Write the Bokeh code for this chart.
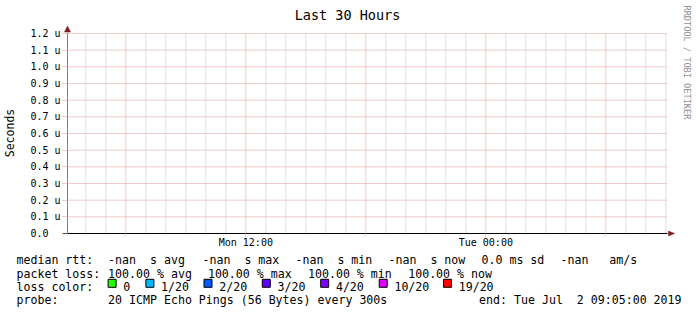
import math
import re
from bokeh.plotting import figure
from bokeh.models import Range1d, FixedTicker, CustomJSTickFormatter
from bokeh.core.properties import value
from bokeh.embed import file_html
from bokeh.resources import INLINE

# ---------------- data ----------------
title_text = "Last 30 Hours"
y_axis_label = "Seconds"
watermark_text = "RRDTOOL / TOBI OETIKER"

# x axis in hours since Mon 00:00 ; window Mon 03:05 .. Tue 09:05
x_start_hour = 3 + 5 / 60
x_end_hour = 33 + 5 / 60
x_major_hours = [6, 12, 18, 24, 30]
x_major_labels = ["", "Mon 12:00", "", "Tue 00:00", ""]
x_minor_hours = [4, 5, 7, 8, 9, 10, 11, 13, 14, 15, 16, 17, 19, 20, 21, 22, 23,
                 25, 26, 27, 28, 29, 31, 32, 33]

# y axis in micro-seconds
y_max = 1.2
y_ticks = [0.0, 0.1, 0.2, 0.3, 0.4, 0.5, 0.6, 0.7, 0.8, 0.9, 1.0, 1.1, 1.2]
y_tick_labels = ["0.0\u00a0\u00a0", "0.1 u", "0.2 u", "0.3 u", "0.4 u", "0.5 u", "0.6 u",
                 "0.7 u", "0.8 u", "0.9 u", "1.0 u", "1.1 u", "1.2 u"]

stat_names = ["avg", "max", "min", "now"]
median_rtt = ["-nan", "-nan", "-nan", "-nan"]
rtt_prefix = " "          # empty SI prefix
rtt_sd = "0.0"
rtt_sd_prefix = "m"
rtt_ams = "-nan"
packet_loss = ["100.00", "100.00", "100.00", "100.00"]
loss_labels = ["0", "1/20", "2/20", "3/20", "4/20", "10/20", "19/20"]
loss_colors = ["#26ff00", "#00b8ff", "#0059ff", "#5e00ff", "#7e00ff", "#dd00ff", "#ff0000"]
probe_text = "20 ICMP Echo Pings (56 Bytes) every 300s"
end_text = "end: Tue Jul  2 09:05:00 2019"

# ---------------- layout / style ----------------
W, H = 697, 315
FL, FT, FR, FB = 67, 33, 667, 233      # data area edges in canvas pixels
PX_PER_HOUR = (FR - FL) / (x_end_hour - x_start_hour)
PX_PER_U = (FB - FT) / y_max
MONO = "DejaVu Sans Mono"
MAJOR = "#e09a9a"
MINOR = "#c4c4c4"
ARROW = "#7f1f1f"


def X(px):
    return x_start_hour + (px - FL) / PX_PER_HOUR


def Y(py):
    return (FB - py) / PX_PER_U


def keep_spaces(t):
    # keep runs of spaces visible in SVG text
    return re.sub(r" {2,}", lambda m: "\u00a0" * (len(m.group(0)) - 1) + " ", t)


p = figure(width=W, height=H, output_backend="svg", toolbar_location=None,
           x_range=Range1d(X(0), X(W)), y_range=Range1d(Y(H), Y(0)),
           min_border=0, min_border_left=0, min_border_right=0,
           min_border_top=0, min_border_bottom=0, outline_line_color=None,
           background_fill_color="white", border_fill_color="white")
p.grid.visible = False

# ---- axes (real Bokeh axes, pinned to the data area) ----
xt = FixedTicker(ticks=x_major_hours, minor_ticks=x_minor_hours)
yt = FixedTicker(ticks=y_ticks, minor_ticks=[])
fmt_code = """
for (let i = 0; i < vals.length; i++) {
  if (Math.abs(vals[i] - tick) < 1e-6) return labels[i];
}
return "";
"""
p.xaxis.ticker = xt
p.xaxis.formatter = CustomJSTickFormatter(args=dict(vals=x_major_hours, labels=x_major_labels), code=fmt_code)
p.yaxis.ticker = yt
p.yaxis.formatter = CustomJSTickFormatter(args=dict(vals=y_ticks, labels=y_tick_labels), code=fmt_code)

for ax in (p.xaxis, p.yaxis):
    ax.major_tick_in = 0
    ax.minor_tick_in = 0
    ax.minor_tick_out = 0
    ax.major_tick_line_color = MAJOR
    ax.major_tick_line_dash = "1 1"
    ax.major_label_text_font = MONO
    ax.major_label_text_font_size = "10px"
    ax.major_label_text_color = "black"

p.xaxis.fixed_location = 0
p.xaxis.bounds = (X(62), x_end_hour)
p.xaxis.axis_line_color = "black"
p.xaxis.major_tick_out = 3
p.xaxis.major_label_standoff = 0

p.yaxis.fixed_location = x_start_hour
p.yaxis.bounds = (0, Y(31.5))
p.yaxis.axis_line_color = "#808080"
p.yaxis.major_tick_out = 5
p.yaxis.major_label_standoff = 2
p.yaxis.axis_label = y_axis_label
p.yaxis.axis_label_text_font = MONO
p.yaxis.axis_label_text_font_size = "11.5px"
p.yaxis.axis_label_text_font_style = "normal"
p.yaxis.axis_label_text_color = "black"
p.yaxis.axis_label_standoff = 10

# ---- grid lines (dotted, limited to the data area) ----
p.segment(x0=x_minor_hours, x1=x_minor_hours, y0=0, y1=y_max,
          line_color=MINOR, line_dash="1 1", line_width=1)
p.segment(x0=x_major_hours, x1=x_major_hours, y0=0, y1=y_max,
          line_color=MAJOR, line_dash="1 1", line_width=1)
p.segment(x0=x_start_hour, x1=x_end_hour, y0=y_ticks[1:], y1=y_ticks[1:],
          line_color=MAJOR, line_dash="1 1", line_width=1)

# ---- axis arrows ----
p.patches(xs=[[X(64.0), X(67.0), X(70.0)], [X(668.0), X(674.0), X(668.0)]],
          ys=[[Y(31.5), Y(25.5), Y(31.5)], [Y(230.5), Y(233.0), Y(235.5)]],
          fill_color=ARROW, line_color=ARROW, line_width=0.5)


def texts(xs_px, y_px, items, size="11.6px", color="black", align="left",
          baseline="alphabetic", angle=0.0):
    p.text(x=[X(v) for v in xs_px], y=[Y(y_px)] * len(items),
           text=[keep_spaces(t) for t in items],
           text_font=value(MONO), text_font_size=value(size), text_color=color,
           text_align=align, text_baseline=baseline, angle=angle)


# title and watermark
texts([347], 14.3, [title_text], size="13.5px", align="center")
texts([686], 5, [watermark_text], size="8.6px", color="#929292",
      baseline="middle", angle=-math.pi / 2)

# legend rows
row_base = [259.6, 273.0, 286.3, 299.6]
rx = 16.0

row1_texts = ["median rtt:"]
row1_texts += [v + " " + rtt_prefix + "s " + n for v, n in zip(median_rtt, stat_names)]
row1_texts += [rtt_sd + " " + rtt_sd_prefix + "s sd", rtt_ams + " " + rtt_prefix + " am/s"]
row1_x = [rx, 107.6, 202.0, 295.0, 388.0, 481.0, 560.0]
texts(row1_x, row_base[0], row1_texts)

row2_texts = ["packet loss:"] + [v + " % " + n for v, n in zip(packet_loss, stat_names)]
row2_x = [rx, 107.6, 207.4, 307.5, 407.7]
texts(row2_x, row_base[1], row2_texts)

box_x = [107.6, 145.4, 203.5, 261.8, 320.2, 378.7, 443.0]
texts([rx], row_base[2], ["loss color:"])
p.quad(left=[X(v) for v in box_x], right=[X(v + 8) for v in box_x],
       top=Y(278.8), bottom=Y(286.8), fill_color=loss_colors, line_color="black", line_width=1)
texts([v + 15.2 for v in box_x], row_base[2], loss_labels)

texts([rx, 107.6, 478.6], row_base[3], ["probe:", probe_text, end_text])

open("out.html", "w").write(file_html(p, INLINE))
